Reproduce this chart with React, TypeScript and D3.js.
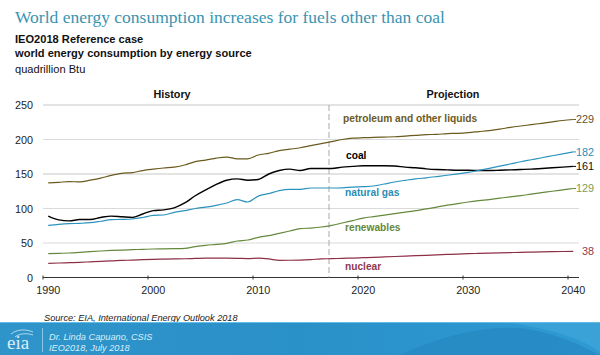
import React from "react";
import * as d3 from "d3";

const years = d3.range(1990, 2041);
const petroleum = [137,138,139,138.5,141,144,148,151,152,155,157,158.7,160,163,168,170,173,174.6,172,172,177.5,180,184,186,188,191,194,197,200,202,202.6,203,203.5,204,205,206,207,207.5,208.5,209,210,211.5,213,215,217.5,219.6,221.5,223.5,225.5,227.5,229];
const coal = [89,83.5,82,84,84,87,89,88,87,92,97,98,101,108,118.5,127,135,141,143,141,142,150,155,157,155,158,158,158,160,161,162,162,162,161.5,160,159,157.5,156.5,156,155.5,155.5,155,155,155.5,156,156.5,157,158,159,160,161];
const gas = [75.6,77,78,78.5,79.4,81.5,83.8,84.2,84.8,87,90,90.6,94.5,96.8,100,102,104.6,108,112.8,109.4,118,121.5,125.8,127.8,127.8,129.7,129.7,129.7,130,131,131.6,132.6,135.5,138.4,140.8,143,144.5,146.3,148.2,150.2,152.4,155.2,158.2,161.3,164.5,167.8,170.7,173.6,176.4,179.2,182];
const renewables = [34.5,35,35.5,36.5,37.5,38.4,39.2,39.8,40.3,40.8,41.3,41.5,41.8,42.3,44.7,46.6,48,49.5,52.9,54.3,58.2,60.6,64,67.4,70.8,71.7,73.2,75.6,79,82.5,86,88.3,90.5,92.7,94.8,96.8,99.5,102,104.8,107.2,109.4,111.3,113,114.9,116.8,118.6,120.8,122.9,125,127,129];
const nuclear = [20.6,21,21.5,22,22.7,23.4,24,24.8,25.2,25.8,26.3,26.6,26.9,27.2,27.6,28,28,28,27.8,27.4,28,27,24.9,25,25.3,26,27,27.3,27.8,28.2,28.7,29.2,29.8,30.4,31,31.6,32.2,32.8,33.4,34,34.5,34.9,35.3,35.7,36.1,36.5,36.8,37.1,37.4,37.7,38];
const yTicks = [0, 50, 100, 150, 200, 250];
const xTicks = [1990, 2000, 2010, 2020, 2030, 2040];
const seriesList = [
  { name: "petroleum and other liquids", values: petroleum, color: "#6b5a1e", labelColor: "#6b5a24", endColor: "#5f5330", lx: 343, ly: 122 },
  { name: "coal", values: coal, color: "#000000", labelColor: "#000000", endColor: "#111111", lx: 346, ly: 159 },
  { name: "natural gas", values: gas, color: "#2b93bd", labelColor: "#2b8db5", endColor: "#2b8db5", lx: 345, ly: 196 },
  { name: "renewables", values: renewables, color: "#64893c", labelColor: "#64893c", endColor: "#7f9a55", lx: 345, ly: 231 },
  { name: "nuclear", values: nuclear, color: "#8e2f48", labelColor: "#8e3a50", endColor: "#8e3a50", lx: 345, ly: 270 },
];

const sans = "'Liberation Sans', Arial, sans-serif";
const x = d3.scaleBand<number>().domain(years).range([43, 578.5]);
const y = d3.scaleLinear().domain([0, 250]).range([277.5, 105]);
const cx = (yr: number) => (x(yr) as number) + x.bandwidth() / 2;
const line = d3.line<number>().x((_, i) => cx(years[i])).y((v) => y(v)).curve(d3.curveMonotoneX);

export default function App() {
  return (
    <svg width={600} height={355} viewBox="0 0 600 355"
      style={{ position: "fixed", left: 0, top: 0, display: "block", background: "#fff" }}>
      <defs>
        <linearGradient id="band" x1="0" y1="0" x2="1" y2="0">
          <stop offset="0" stopColor="#2f94c9" />
          <stop offset="0.5" stopColor="#2a90c8" />
          <stop offset="1" stopColor="#2f9ad2" />
        </linearGradient>
      </defs>
      <text x={15} y={23} fontFamily="'Liberation Serif', serif" fontSize={17.5} fill="#3a93b2">
        World energy consumption increases for fuels other than coal
      </text>
      <g fontFamily={sans} fontSize={11.1} fill="#111">
        <text x={15} y={43} fontWeight="bold">IEO2018 Reference case</text>
        <text x={15} y={56.5} fontWeight="bold">world energy consumption by energy source</text>
        <text x={15} y={72.5}>quadrillion Btu</text>
      </g>
      <g fontFamily={sans} fontSize={10.8} fontWeight="bold" fill="#111" textAnchor="middle">
        <text x={172} y={98}>History</text>
        <text x={453} y={98}>Projection</text>
      </g>
      {yTicks.filter((t) => t > 0).map((t) => (
        <line key={t} x1={43} x2={579} y1={y(t)} y2={y(t)} stroke="#dadada" strokeWidth={t === 250 || t === 150 ? 1.5 : 1} />
      ))}
      <g fontFamily={sans} fontSize={10.8} fill="#222">
        {yTicks.map((t) => (
          <text key={t} x={33} y={y(t) + 4} textAnchor="end">{t}</text>
        ))}
      </g>
      <line x1={43} x2={579} y1={y(0)} y2={y(0)} stroke="#333" strokeWidth={1} />
      {xTicks.map((t) => (
        <g key={t}>
          <line x1={x(t)} x2={x(t)} y1={y(0) - 2} y2={y(0) + 2} stroke="#333" />
          <text x={cx(t)} y={294} textAnchor="middle" fontFamily={sans} fontSize={10.8} fill="#222">{t}</text>
        </g>
      ))}
      <line x1={(x(2017) as number) + 2.5} x2={(x(2017) as number) + 2.5} y1={y(250)} y2={y(0)}
        stroke="#a8a8a8" strokeWidth={1} strokeDasharray="6 3" />
      {seriesList.map((s) => (
        <path key={s.name} d={line(s.values) as string} fill="none" stroke={s.color} strokeWidth={s.name === "coal" ? 1.4 : 1.2} />
      ))}
      <g fontFamily={sans} fontSize={10.2} fontWeight="bold">
        {seriesList.map((s) => (
          <text key={s.name} x={s.lx} y={s.ly} fill={s.labelColor}>{s.name}</text>
        ))}
      </g>
      <g fontFamily={sans} fontSize={10.8}>
        {seriesList.map((s) => (
          <text key={s.name} x={594} y={y(s.values[s.values.length - 1]) + 4} textAnchor="end" fill={s.endColor}>
            {s.values[s.values.length - 1]}
          </text>
        ))}
      </g>
      {seriesList.filter((s) => s.name !== "nuclear").map((s) => {
        const v = s.values[s.values.length - 1];
        return <line key={s.name} x1={cx(2040)} x2={576} y1={y(v)} y2={y(v)} stroke={s.color} strokeWidth={1} />;
      })}
      <text x={44} y={320.5} fontFamily={sans} fontSize={9.2} fontStyle="italic" fill="#222">
        Source:  EIA, International Energy Outlook 2018
      </text>
      <rect x={0} y={322} width={600} height={33} fill="url(#band)" />
      <rect x={0} y={322} width={600} height={1} fill="#63bde6" />
      <path d="M 400 355 C 450 332 490 326 520 328 C 555 332 580 345 600 355 Z" fill="#2588c0" opacity={0.7} />
      <path d="M 510 323 C 550 328 585 340 600 352 L 600 323 Z" fill="#44a9dc" opacity={0.6} />
      <text x={7} y={349} fontFamily="'Liberation Serif', serif" fontSize={19} fill="#dceef8">eia</text>
      <path d="M 11 334 C 17 329 26 329 33 332 M 15 337 C 20 333 27 333 33 335" fill="none" stroke="#cfe8f6" strokeWidth={0.8} />
      <line x1={42.5} x2={42.5} y1={328} y2={352} stroke="#9fd3ef" strokeWidth={0.8} />
      <g fontFamily={sans} fontSize={9.2} fontStyle="italic" fill="#d8eefa">
        <text x={49} y={340}>Dr. Linda Capuano, CSIS</text>
        <text x={49} y={351}>IEO2018, July 2018</text>
      </g>
    </svg>
  );
}
